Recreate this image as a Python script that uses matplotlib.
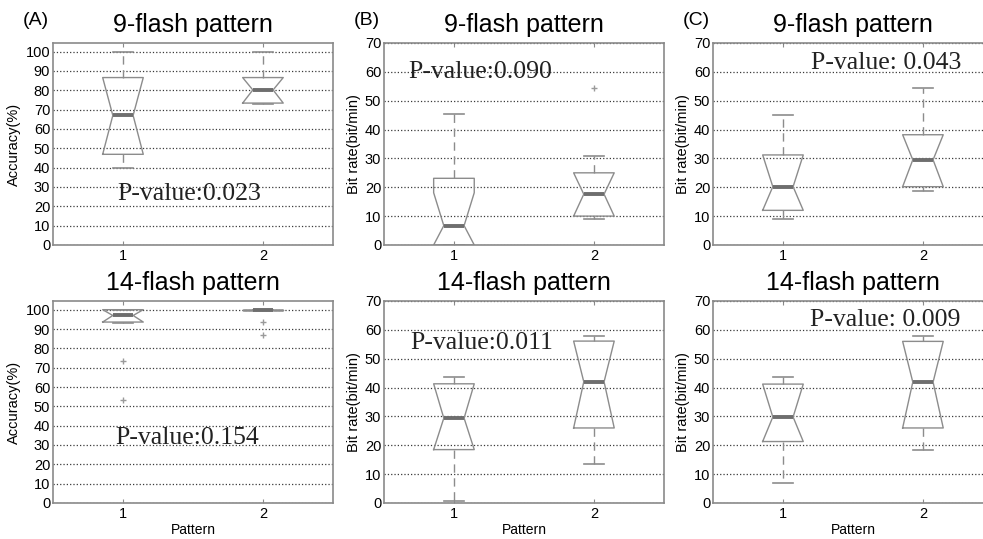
import numpy as np
import matplotlib
matplotlib.use("Agg")
import matplotlib.pyplot as plt

# five-number summaries per box: whislo, q1, med, q3, whishi
acc9 = [[40, 46.9, 67, 86.6, 100], [73, 73.4, 80.2, 86.6, 100]]
acc9_out = [[], []]
acc14 = [[93, 93.6, 97, 100, 100], [100, 100, 100, 100, 100]]
acc14_out = [[73.3, 53.3], [93.4, 86.9]]
bitB9 = [[0, 0, 6.7, 23.1, 45.3], [8.9, 10, 17.6, 25, 31]]
bitB9_out = [[], [54.4]]
bitB9_notchhi = [18.1, 25]
bitB14 = [[0.8, 18.5, 29.4, 41.3, 43.7], [13.5, 26, 42, 56.1, 58]]
bitC9 = [[8.9, 12, 20.2, 31.2, 45.2], [18.7, 20.2, 29.5, 38.2, 54.4]]
bitC14 = [[6.9, 21.3, 29.8, 41.2, 43.5], [18.4, 26, 41.9, 56, 58]]

titles = ["9-flash pattern", "14-flash pattern"]
panel_tags = ["(A)", "(B)", "(C)"]
pvals = [["P-value:0.023", "P-value:0.090", "P-value: 0.043"],
         ["P-value:0.154", "P-value:0.011", "P-value: 0.009"]]
pval_xy = [[(1.47, 26.6), (1.19, 60), (1.74, 62.9)],
           [(1.46, 33.8), (1.2, 55.4), (1.73, 63.4)]]
ylabels = ["Accuracy(%)", "Bit rate(bit/min)", "Bit rate(bit/min)"]

box_col = "#8c8c8c"
med_col = "#6e6e6e"


def make_stats(summ, outs, notchhi=None):
    stats = []
    for i, s in enumerate(summ):
        lo, q1, med, q3, hi = s
        d = dict(whislo=lo, q1=q1, med=med, q3=q3, whishi=hi,
                 cilo=q1, cihi=q3 if notchhi is None else notchhi[i],
                 fliers=np.array(outs[i]))
        stats.append(d)
    return stats


fig = plt.figure(figsize=(9.83, 5.39), dpi=100)
lefts = [0.0539, 0.3906, 0.7253]
bottoms = [0.5455, 0.0668]
w, h = 0.2848, 0.3748

data = [[(acc9, acc9_out, None), (bitB9, bitB9_out, bitB9_notchhi), (bitC9, [[], []], None)],
        [(acc14, acc14_out, None), (bitB14, [[], []], None), (bitC14, [[], []], None)]]

for r in range(2):
    for c in range(3):
        ax = fig.add_axes([lefts[c], bottoms[r], w, h])
        summ, outs, nh = data[r][c]
        ax.bxp(make_stats(summ, outs, nh), positions=[1, 2], widths=0.29,
               shownotches=True, showfliers=True,
               boxprops=dict(color=box_col, lw=1),
               medianprops=dict(color=med_col, lw=2.8),
               whiskerprops=dict(color=box_col, lw=1, ls=(0, (6, 4))),
               capprops=dict(color=box_col, lw=1.2),
               flierprops=dict(marker="+", markeredgecolor="#9a9a9a", markersize=5, lw=0))
        ax.set_xlim(0.5, 2.5)
        if c == 0:
            ax.set_ylim(0, 104.5)
            ax.set_yticks(np.arange(0, 101, 10))
        else:
            ax.set_ylim(0, 70)
            ax.set_yticks(np.arange(0, 71, 10))
        ax.set_xticks([1, 2])
        ax.set_xticklabels(["1", "2"])
        ax.yaxis.grid(True, ls=":", color="#3a3a3a", lw=0.9)
        ax.set_axisbelow(True)
        for sp in ax.spines.values():
            sp.set_color("#8a8a8a")
            sp.set_linewidth(1.2)
        ax.tick_params(axis="x", direction="in", top=True, length=3, color="#8a8a8a",
                       labelsize=10.5, pad=3)
        ax.tick_params(axis="y", direction="in", length=0, labelsize=10.5, pad=2)
        for lab in ax.get_xticklabels() + ax.get_yticklabels():
            lab.set_fontfamily("Liberation Sans")
        ax.set_ylabel(ylabels[c], fontsize=10.5, family="Liberation Sans", labelpad=3)
        if r == 1:
            ax.set_xlabel("Pattern", fontsize=10, family="Liberation Sans", labelpad=1)
        ax.set_title(titles[r], fontsize=18, family="Liberation Sans", pad=8)
        px, py = pval_xy[r][c]
        ax.text(px, py, pvals[r][c], fontsize=18.5, family="Liberation Serif",
                color="#222222", ha="center", va="center")
        if r == 0:
            fig.text(lefts[c] - 0.031, 0.962, panel_tags[c], fontsize=14,
                     family="Liberation Sans", ha="left", va="center")

fig.savefig("out.png", dpi=100)
